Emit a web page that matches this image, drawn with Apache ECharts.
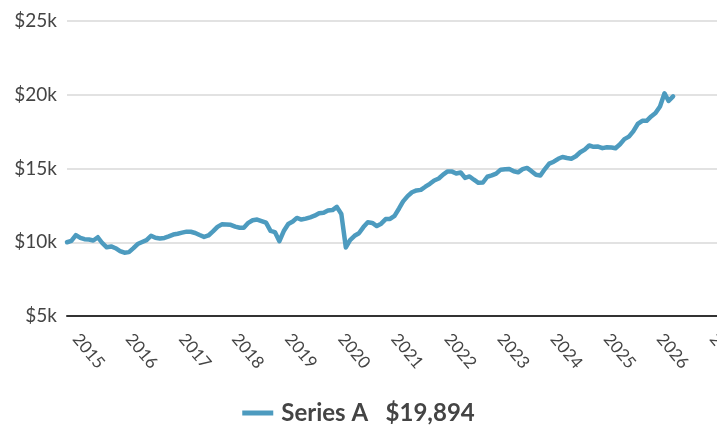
<!DOCTYPE html>
<html>
<head>
<meta charset="utf-8">
<title>Series A</title>
<script src="https://cdn.jsdelivr.net/npm/echarts@6/dist/echarts.min.js"></script>
<style>
  html, body { margin: 0; padding: 0; background: #fff; }
  #chart { width: 717px; height: 426px; }
</style>
</head>
<body>
<div id="chart"></div>
<script>
// 起始月份（月度数据，2014年11月起）
var startYear = 2014;
var startMonth = 10;
// 横轴范围
var axisStart = '2014-11-01';
var axisEnd = '2027-01-28';
// 纵轴刻度
var yTicks = [5000, 10000, 15000, 20000, 25000];
// Series A 月度数值
var seriesA = [
  10000, 10100, 10490, 10295, 10205, 10185, 10120, 10340, 9950, 9660,
  9715, 9595, 9400, 9290, 9330, 9600, 9880, 10015, 10140, 10440,
  10300, 10250, 10290, 10395, 10520, 10580, 10650, 10720, 10710, 10630,
  10490, 10360, 10460, 10735, 11040, 11215, 11210, 11180, 11060, 10980,
  10980, 11315, 11490, 11540, 11440, 11330, 10770, 10690, 10070, 10760,
  11240, 11410, 11650, 11540, 11600, 11690, 11800, 11970, 12000, 12150,
  12180, 12400, 11920, 9650, 10150, 10440, 10610, 11030, 11350, 11310,
  11100, 11260, 11570, 11580, 11790, 12290, 12770, 13130, 13390, 13515,
  13550, 13765, 13960, 14190, 14320, 14590, 14800, 14790, 14660, 14730,
  14365, 14460, 14240, 14030, 14050, 14440, 14530, 14650, 14920, 14950,
  14970, 14810, 14740, 14960, 15040, 14820, 14570, 14520, 14960, 15330,
  15460, 15660, 15780, 15710, 15660, 15830, 16100, 16280, 16560, 16470,
  16490, 16380, 16440, 16420, 16370, 16640, 16990, 17160, 17520, 18020,
  18230, 18230, 18530, 18760, 19210, 20100, 19580, 19894
];

var lineColor = '#4d9bbf';
var textColor = '#444444';

var points = seriesA.map(function (v, i) {
  return [new Date(startYear, startMonth + i, 1).getTime(), v];
});
var lastValue = seriesA[seriesA.length - 1];

var myChart = echarts.init(document.getElementById('chart'));
var option = {
  animation: false,
  textStyle: { fontFamily: 'Lato' },
  grid: {
    top: 21,
    bottom: 110,
    left: 67,
    right: 0,
    outerBoundsMode: 'none',
    containLabel: false
  },
  legend: {
    top: 396,
    left: 'center',
    icon: 'rect',
    itemWidth: 31,
    itemHeight: 5,
    itemGap: 10,
    data: ['Series A'],
    formatter: function (name) {
      return name + '   $' + lastValue.toLocaleString('en-US');
    },
    textStyle: {
      fontFamily: 'Lato',
      fontWeight: 'bold',
      fontSize: 24,
      color: textColor,
      padding: [0, 0, 0, 3]
    }
  },
  xAxis: {
    type: 'time',
    min: new Date(axisStart + 'T00:00:00').getTime(),
    max: new Date(axisEnd + 'T00:00:00').getTime(),
    splitNumber: 12,
    axisLine: { show: true, lineStyle: { color: '#333333', width: 2 } },
    axisTick: { show: false },
    splitLine: { show: false },
    axisLabel: {
      rotate: -50,
      margin: 20,
      fontFamily: 'Lato',
      fontSize: 17,
      color: textColor,
      hideOverlap: false,
      formatter: function (val) {
        var d = new Date(val);
        if (d.getMonth() === 0 && d.getDate() === 1) {
          return String(d.getFullYear());
        }
        return '';
      }
    }
  },
  yAxis: {
    type: 'value',
    min: yTicks[0],
    max: yTicks[yTicks.length - 1],
    interval: 5000,
    axisLine: { show: false },
    axisTick: { show: false },
    splitLine: { lineStyle: { color: '#e2e2e2', width: 2 } },
    axisLabel: {
      margin: 10,
      fontFamily: 'Lato',
      fontSize: 19,
      color: textColor,
      formatter: function (v) {
        return '$' + (v / 1000) + 'k';
      }
    }
  },
  series: [
    {
      name: 'Series A',
      type: 'line',
      data: points,
      showSymbol: false,
      symbol: 'none',
      color: lineColor,
      lineStyle: {
        color: lineColor,
        width: 4.5,
        cap: 'round',
        join: 'round'
      }
    }
  ]
};
myChart.setOption(option);
</script>
</body>
</html>
